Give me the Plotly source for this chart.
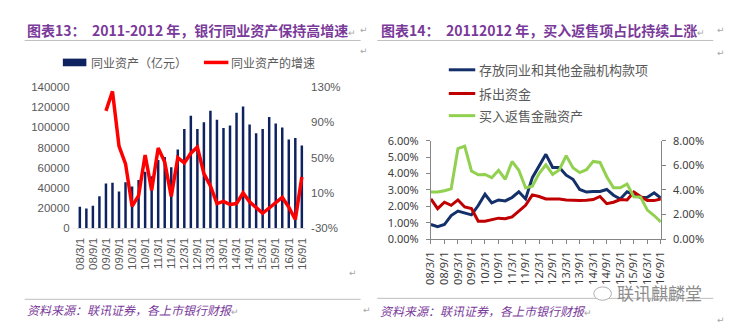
import plotly.graph_objects as go

W, H = 734, 334

# Quarter-end report dates, 2008Q1 .. 2016Q3
dates = [f"{y:02d}/{m}/1" for y in range(8, 17) for m in (3, 6, 9, 12)][:35]
tick_dates = dates[::2]

# Chart 13: interbank assets (100 million yuan) and YoY growth (%)
interbank_assets = [21500, 19600, 22400, 31900, 44500, 45100, 36600, 45700, 41500,
                    48000, 56100, 51700, 67800, 70600, 60600, 78200, 98400, 111600,
                    98400, 105000, 116400, 107600, 99300, 101900, 114500, 120800,
                    102800, 94300, 98400, 110400, 103800, 100000, 88000, 89600, 82000]
interbank_growth = [None, None, None, None, 103, 125, 63, 43, -5, 7, 53, 13, 61, 45, 6,
                    50, 44, 55, 62, 32, 18, -2, 0.5, -3, -2, 10, 0, -7, -13, -7, -1, 5,
                    -6, -20, 28]

# Chart 14: share of total assets (%)
deposits_share = [0.89, 0.76, 0.89, 1.44, 1.71, 1.61, 1.48, 2.05, 2.74, 2.21, 2.39, 2.33,
                  2.54, 2.89, 2.45, 3.75, 4.42, 5.17, 4.37, 4.37, 3.90, 3.65, 3.03, 2.87,
                  2.91, 2.91, 3.03, 2.68, 2.45, 2.89, 2.72, 2.54, 2.56, 2.83, 2.50]
lending_share = [2.45, 1.86, 2.25, 2.06, 2.39, 1.96, 1.86, 1.09, 1.09, 1.20, 1.28, 1.24,
                 1.36, 1.71, 2.06, 2.70, 2.60, 2.45, 2.45, 2.45, 2.39, 2.35, 2.35, 2.37,
                 2.41, 2.60, 2.16, 2.25, 2.41, 2.39, 2.87, 2.60, 2.35, 2.35, 2.45]
resale_share = [3.83, 3.83, 3.94, 4.09, 7.36, 7.56, 5.54, 5.23, 5.26, 5.00, 5.60, 4.87,
                6.32, 5.60, 4.17, 4.30, 5.34, 6.04, 5.26, 5.65, 6.79, 5.80, 5.41, 5.65,
                6.32, 6.24, 5.08, 4.17, 4.17, 4.48, 3.45, 3.42, 2.36, 1.92, 1.40]

left_y_ticks = [0, 20000, 40000, 60000, 80000, 100000, 120000, 140000]
growth_ticks = [-30, 10, 50, 90, 130]
share_ticks = [0, 1, 2, 3, 4, 5, 6]
resale_ticks = [0, 2, 4, 6, 8]

name_assets = "同业资产（亿元）"
name_growth = "同业资产的增速"
name_deposits = "存放同业和其他金融机构款项"
name_lending = "拆出资金"
name_resale = "买入返售金融资产"
title_13 = "图表13：  2011-2012 年，银行同业资产保持高增速"
title_14 = "图表14：  20112012 年，买入返售项占比持续上涨"
source = "资料来源：联讯证券，各上市银行财报"

NAVY = "#0E2260"
NAVY_LINE = "#14306A"
RED = "#FF0000"
DARK_RED = "#C00000"
GREEN = "#92D050"
PURPLE = "#7A3A9A"
TXT = "#595959"
MARK = "#A6A6A6"
CJK = "Noto Sans CJK SC"


def px(x):
    return x / W


def py(y):
    return 1 - y / H


fig = go.Figure()

fig.add_trace(go.Bar(x=dates, y=interbank_assets, name=name_assets, marker_color=NAVY,
                     marker_line_width=0, xaxis="x", yaxis="y"))
fig.add_trace(go.Scatter(x=dates, y=interbank_growth, name=name_growth, mode="lines",
                         line=dict(color=RED, width=3.5), xaxis="x", yaxis="y2",
                         connectgaps=False))

fig.add_trace(go.Scatter(x=dates, y=deposits_share, name=name_deposits, mode="lines",
                         line=dict(color=NAVY_LINE, width=3), xaxis="x3", yaxis="y3"))
fig.add_trace(go.Scatter(x=dates, y=lending_share, name=name_lending, mode="lines",
                         line=dict(color=DARK_RED, width=3), xaxis="x3", yaxis="y3"))
fig.add_trace(go.Scatter(x=dates, y=resale_share, name=name_resale, mode="lines",
                         line=dict(color=GREEN, width=3), xaxis="x3", yaxis="y4"))

tick_font = dict(family="Liberation Sans", size=11.5, color=TXT)
tick_font_r = dict(family="Noto Sans", size=11, color="#404040")

fig.update_layout(
    width=W, height=H, margin=dict(l=0, r=0, t=0, b=0),
    paper_bgcolor="white", plot_bgcolor="white", showlegend=False, bargap=0.62,
    xaxis=dict(domain=[px(70), px(303.3)], type="category", range=[-0.5, 34.5],
               tickmode="array", tickvals=tick_dates, ticktext=tick_dates,
               tickangle=-90, tickfont=tick_font, showgrid=False, ticks="",
               showline=True, linecolor="#D9D9D9", linewidth=1, ticklabelstandoff=4,
               anchor="y"),
    yaxis=dict(domain=[py(230.7), py(82.7)], range=[0, 140000], tickmode="array",
               tickvals=left_y_ticks, ticktext=[str(v) for v in left_y_ticks],
               tickfont=tick_font, showgrid=False, zeroline=False, showline=False,
               ticks="", ticklabelstandoff=6, anchor="x"),
    yaxis2=dict(overlaying="y", side="right", range=[-30, 130], tickmode="array",
                tickvals=growth_ticks, ticktext=[f"{v}%" for v in growth_ticks],
                tickfont=tick_font, showgrid=False, zeroline=False,
                showline=False, ticks="", ticklabelstandoff=5, anchor="x"),
    xaxis3=dict(domain=[px(431.7), px(666.5)], type="category", range=[0, 34],
                tickmode="array", tickvals=tick_dates, ticktext=tick_dates,
                tickangle=-90, tickfont=tick_font_r, showgrid=False, ticks="outside",
                ticklen=4, tickcolor="#868686", showline=True, linecolor="#868686",
                linewidth=1, ticklabelstandoff=3, anchor="y3"),
    yaxis3=dict(domain=[py(242), py(139)], range=[0, 6], tickmode="array",
                tickvals=share_ticks, ticktext=[f"{v:.2f}%" for v in share_ticks],
                tickfont=tick_font_r, showgrid=False, zeroline=False,
                showline=True, linecolor="#868686", ticks="outside", ticklen=4,
                tickcolor="#868686", ticklabelstandoff=5, anchor="x3"),
    yaxis4=dict(overlaying="y3", side="right", range=[0, 8], tickmode="array",
                tickvals=resale_ticks, ticktext=[f"{v:.2f}%" for v in resale_ticks],
                tickfont=tick_font_r, showgrid=False, zeroline=False,
                showline=True, linecolor="#868686", ticks="outside", ticklen=4,
                tickcolor="#868686", ticklabelstandoff=5, anchor="x3"),
)

shapes = []
annotations = []
RET = f"<span style='color:{MARK};font-size:9px'>↵</span>"


def text(x, y, s, size=12, color=TXT, family=CJK, anchor="left"):
    annotations.append(dict(x=px(x), y=py(y), xref="paper", yref="paper", text=s,
                            showarrow=False, xanchor=anchor, yanchor="middle",
                            font=dict(family=family, size=size, color=color)))


def hline(x0, x1, y, color="#BFBFBF", width=1):
    shapes.append(dict(type="line", xref="paper", yref="paper", x0=px(x0), x1=px(x1),
                       y0=py(y), y1=py(y), line=dict(color=color, width=width)))


def mark(x, y):
    text(x, y, "↵", size=9, color=MARK, family="DejaVu Sans")


# Panel titles and rules
text(17, 23, f"<b>{title_13}</b>{RET}", size=14, color=PURPLE)
text(379, 23, f"<b>{title_14}</b>{RET}", size=14, color=PURPLE)
hline(17, 360, 34)
hline(377, 720, 34)
mark(357, 23)
mark(357, 45)
mark(722, 23)
mark(722, 47)

# Legend of chart 13
shapes.append(dict(type="rect", xref="paper", yref="paper", x0=px(56), x1=px(80),
                   y0=py(61), y1=py(53), fillcolor=NAVY, line_width=0))
text(83, 57, name_assets, size=12)
shapes.append(dict(type="line", xref="paper", yref="paper", x0=px(200), x1=px(225),
                   y0=py(57), y1=py(57), line=dict(color=RED, width=3.5)))
text(226, 57, name_growth, size=12)

# Legend of chart 14
for yy, col, nm in [(64.7, NAVY_LINE, name_deposits), (89.5, DARK_RED, name_lending),
                    (112.7, GREEN, name_resale)]:
    shapes.append(dict(type="line", xref="paper", yref="paper", x0=px(450), x1=px(477),
                       y0=py(yy), y1=py(yy), line=dict(color=col, width=3)))
    text(479, yy, nm, size=13)

# Source lines
hline(17, 360, 305)
hline(377, 720, 304)
text(17, 316, f"<i>{source}</i>{RET}", size=12, color=PURPLE)
text(378, 317, f"<i>{source}</i>{RET}", size=12, color=PURPLE)
mark(346, 277)
mark(360, 316)
mark(722, 327)

# Watermark
shapes.append(dict(type="circle", xref="paper", yref="paper", x0=px(598), x1=px(616),
                   y0=py(306), y1=py(292), line=dict(color="#B0B0B0", width=1),
                   fillcolor="white"))
text(620, 298, "联讯麒麟堂", size=17, color="#8C8C8C")

fig.update_layout(shapes=shapes, annotations=annotations)

fig.write_html("out.html")
